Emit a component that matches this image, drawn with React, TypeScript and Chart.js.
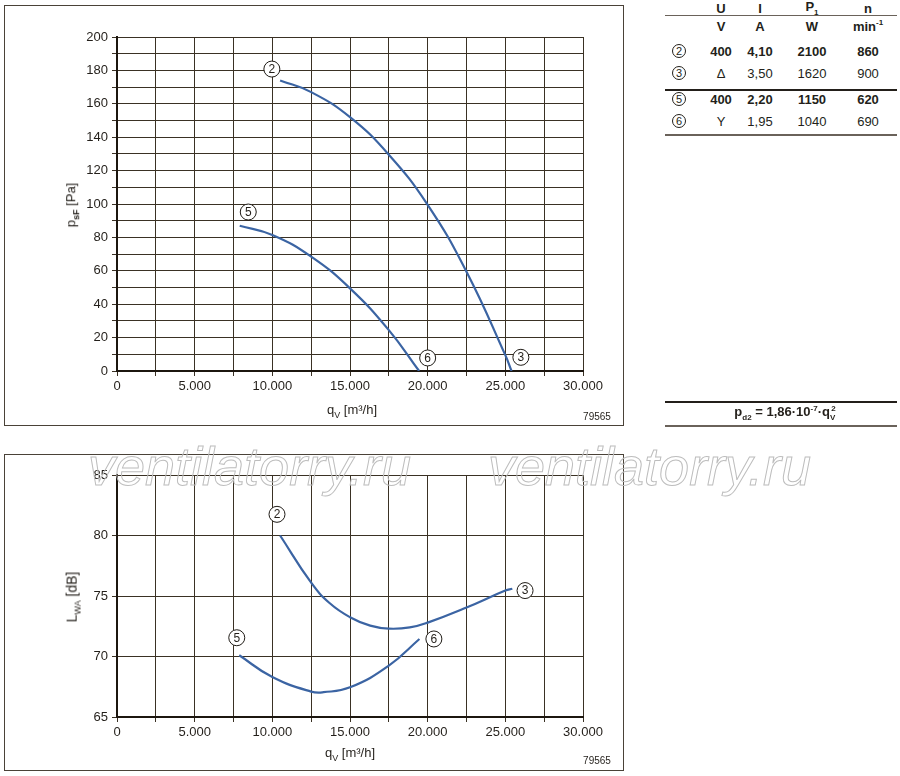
import React, { useEffect, useRef } from "react";
import { Chart, registerables } from "chart.js";

Chart.register(...registerables);

// ---------- data ----------
const fan2Q = [10500, 12500, 15000, 17500, 20000, 22500, 25000, 25400];
const fan2P = [174, 167, 152, 129.5, 99.5, 59.5, 9.5, 0];
const fan5Q = [7900, 10000, 12500, 15000, 17500, 19450];
const fan5P = [87, 81.5, 68.5, 49.5, 24.5, 0];

const lw2Q = [10500, 12500, 13700, 15000, 16300, 17500, 18850, 20000, 22500, 25000, 25450];
const lw2L = [80.0, 76.1, 74.4, 73.25, 72.55, 72.3, 72.4, 72.8, 74.05, 75.45, 75.6];
const lw5Q = [7870, 10000, 12500, 13300, 15000, 17500, 19470];
const lw5L = [70.1, 68.3, 67.1, 67.05, 67.45, 69.25, 71.45];

const pLabelQ = [9970, 8450, 20000, 26000];
const pLabelV = [180.8, 95.2, 7.8, 8.2];
const pLabelT = ["2", "5", "6", "3"];

const lLabelQ = [10300, 7710, 20400, 26270];
const lLabelV = [81.75, 71.55, 71.45, 75.45];
const lLabelT = ["2", "5", "6", "3"];

const tblId = ["2", "3", "5", "6"];
const tblU = ["400", "Δ", "400", "Y"];
const tblI = ["4,10", "3,50", "2,20", "1,95"];
const tblP = ["2100", "1620", "1150", "1040"];
const tblN = ["860", "900", "620", "690"];
const tblBold = [true, false, true, false];

const FONT = "'Liberation Sans', Arial, Helvetica, sans-serif";
const TXT = "#231f1a";
const GRID = "#3a3124";
const BLUE = "#3b64a3";

const circlePlugin = {
  id: "circleLabels",
  afterDatasetsDraw(chart: any, _args: any, opts: any) {
    const { ctx } = chart;
    const xs = chart.scales.x;
    const ys = chart.scales.y;
    const q: number[] = opts.q || [];
    const v: number[] = opts.v || [];
    const t: string[] = opts.t || [];
    ctx.save();
    for (let i = 0; i < q.length; i++) {
      const px = xs.getPixelForValue(q[i]);
      const py = ys.getPixelForValue(v[i]);
      ctx.beginPath();
      ctx.arc(px, py, 8, 0, Math.PI * 2);
      ctx.fillStyle = "#ffffff";
      ctx.fill();
      ctx.lineWidth = 1;
      ctx.strokeStyle = "#1e1a15";
      ctx.stroke();
      ctx.fillStyle = TXT;
      ctx.font = `12px ${FONT}`;
      ctx.textAlign = "center";
      ctx.textBaseline = "middle";
      ctx.fillText(t[i], px, py + 0.5);
    }
    ctx.restore();
  },
};

function toXY(xs: number[], ys: number[]) {
  return xs.map((x, i) => ({ x, y: ys[i] }));
}

function fmtQ(v: number) {
  if (v % 5000 !== 0) return "";
  if (v === 0) return "0";
  return `${v / 1000}.000`;
}

function makeChart(
  canvas: HTMLCanvasElement,
  series: { q: number[]; v: number[] }[],
  yMin: number,
  yMax: number,
  yStep: number,
  yLabelEvery: number,
  padTop: number,
  labels: { q: number[]; v: number[]; t: string[] }
) {
  return new Chart(canvas, {
    type: "line",
    data: {
      datasets: series.map((s) => ({
        data: toXY(s.q, s.v),
        borderColor: BLUE,
        borderWidth: 2.2,
        pointRadius: 0,
        tension: 0.45,
        cubicInterpolationMode: "default",
        fill: false,
      })),
    },
    plugins: [circlePlugin],
    options: {
      animation: false,
      responsive: false,
      maintainAspectRatio: false,
      layout: { padding: { left: 0, right: 57, top: padTop, bottom: 19 } },
      plugins: {
        legend: { display: false },
        tooltip: { enabled: false },
        circleLabels: labels,
      } as any,
      scales: {
        x: {
          type: "linear",
          min: 0,
          max: 30000,
          afterFit: (s: any) => {
            s.height = 40;
          },
          ticks: {
            stepSize: 2500,
            autoSkip: false,
            maxRotation: 0,
            padding: 3,
            color: TXT,
            font: { family: FONT, size: 13 },
            callback: (v: any) => fmtQ(Number(v)),
          },
          grid: { color: GRID, lineWidth: 1, tickLength: 5, tickColor: GRID },
          border: { display: true, color: "#1c160f", width: 2 },
        },
        y: {
          type: "linear",
          min: yMin,
          max: yMax,
          afterFit: (s: any) => {
            s.width = 117;
          },
          ticks: {
            stepSize: yStep,
            autoSkip: false,
            padding: 4,
            color: TXT,
            font: { family: FONT, size: 13 },
            callback: (v: any) =>
              Math.round(Number(v) - yMin) % yLabelEvery === 0 ? String(v) : "",
          },
          grid: { color: GRID, lineWidth: 1, tickLength: 5, tickColor: GRID },
          border: { display: true, color: "#1c160f", width: 2 },
        },
      },
    } as any,
  });
}

const abs = (l: number, t: number, extra: React.CSSProperties = {}): React.CSSProperties => ({
  position: "absolute",
  left: l,
  top: t,
  ...extra,
});

const centered = (cx: number, cy: number, extra: React.CSSProperties = {}): React.CSSProperties => ({
  position: "absolute",
  left: cx,
  top: cy,
  transform: "translate(-50%, -50%)",
  whiteSpace: "nowrap",
  ...extra,
});

export default function App() {
  const topRef = useRef<HTMLCanvasElement>(null);
  const botRef = useRef<HTMLCanvasElement>(null);

  useEffect(() => {
    const c1 = makeChart(
      topRef.current!,
      [
        { q: fan2Q, v: fan2P },
        { q: fan5Q, v: fan5P },
      ],
      0,
      200,
      10,
      20,
      37,
      { q: pLabelQ, v: pLabelV, t: pLabelT }
    );
    const c2 = makeChart(
      botRef.current!,
      [
        { q: lw2Q, v: lw2L },
        { q: lw5Q, v: lw5L },
      ],
      65,
      85,
      5,
      5,
      35,
      { q: lLabelQ, v: lLabelV, t: lLabelT }
    );
    return () => {
      c1.destroy();
      c2.destroy();
    };
  }, []);

  const cols = [679, 721, 760, 812, 868];
  const rowsY = [51, 73, 99, 121];
  const lineStyle = (y: number, w: number, c: string): React.CSSProperties =>
    abs(665, y, { width: 232, height: w, background: c });

  const wm: React.CSSProperties = {
    fontFamily: FONT,
    fontStyle: "italic",
    fontSize: 54,
    lineHeight: "54px",
    color: "transparent",
    WebkitTextStroke: "1px #bdbdbd",
    whiteSpace: "nowrap",
  };

  return (
    <div
      style={{
        position: "fixed",
        left: 0,
        top: 0,
        width: 900,
        height: 776,
        background: "#fff",
        fontFamily: FONT,
        color: TXT,
        overflow: "hidden",
      }}
    >
      {/* top chart */}
      <div style={abs(4, 5, { width: 620, height: 421, border: "1.5px solid #4a4238", boxSizing: "border-box" })} />
      <canvas ref={topRef} width={640} height={430} style={abs(0, 0, { width: 640, height: 430 })} />
      <div style={centered(72, 205, { transform: "translate(-50%, -50%) rotate(-90deg)", fontSize: 13 })}>
        p<sub style={{ fontSize: 9, fontWeight: "bold" }}>sF</sub> [Pa]
      </div>
      <div style={centered(352, 411, { fontSize: 13 })}>
        q<sub style={{ fontSize: 9 }}>V</sub> [m³/h]
      </div>
      <div style={centered(597, 416, { fontSize: 10 })}>79565</div>

      {/* bottom chart */}
      <div style={abs(4, 454, { width: 620, height: 317, border: "1.5px solid #4a4238", boxSizing: "border-box" })} />
      <canvas ref={botRef} width={640} height={336} style={abs(0, 440, { width: 640, height: 336 })} />
      <div style={centered(73, 597, { transform: "translate(-50%, -50%) rotate(-90deg)", fontSize: 14 })}>
        L<sub style={{ fontSize: 9 }}>WA</sub> [dB]
      </div>
      <div style={centered(350, 754, { fontSize: 13 })}>
        q<sub style={{ fontSize: 9 }}>V</sub> [m³/h]
      </div>
      <div style={centered(597, 760, { fontSize: 10 })}>79565</div>

      {/* watermark */}
      <div style={abs(88, 439, wm)}>ventilatorry.ru</div>
      <div style={abs(488, 439, wm)}>ventilatorry.ru</div>

      {/* table */}
      <div style={centered(cols[1], 8, { fontSize: 13, fontWeight: "bold" })}>U</div>
      <div style={centered(cols[2], 8, { fontSize: 13, fontWeight: "bold" })}>I</div>
      <div style={centered(cols[3], 8, { fontSize: 13, fontWeight: "bold" })}>
        P<sub style={{ fontSize: 8 }}>1</sub>
      </div>
      <div style={centered(cols[4], 8, { fontSize: 13, fontWeight: "bold" })}>n</div>
      <div style={lineStyle(15, 1, "#6a625a")} />
      <div style={centered(cols[1], 26, { fontSize: 13, fontWeight: "bold" })}>V</div>
      <div style={centered(cols[2], 26, { fontSize: 13, fontWeight: "bold" })}>A</div>
      <div style={centered(cols[3], 26, { fontSize: 13, fontWeight: "bold" })}>W</div>
      <div style={centered(cols[4], 26, { fontSize: 13, fontWeight: "bold" })}>
        min<sup style={{ fontSize: 8 }}>-1</sup>
      </div>
      {tblId.map((id, i) => (
        <React.Fragment key={id}>
          <div
            style={centered(cols[0], rowsY[i], {
              width: 14,
              height: 14,
              border: "1px solid #231f1a",
              borderRadius: "50%",
              boxSizing: "border-box",
              fontSize: 11,
              lineHeight: "12px",
              textAlign: "center",
            })}
          >
            {id}
          </div>
          {[tblU[i], tblI[i], tblP[i], tblN[i]].map((s, j) => (
            <div
              key={j}
              style={centered(cols[j + 1], rowsY[i], { fontSize: 13, fontWeight: tblBold[i] ? "bold" : "normal" })}
            >
              {s}
            </div>
          ))}
        </React.Fragment>
      ))}
      <div style={lineStyle(89, 1.5, "#231f1a")} />
      <div style={lineStyle(134, 1.5, "#6a625a")} />

      {/* formula */}
      <div style={lineStyle(401, 1.5, "#231f1a")} />
      <div style={centered(785, 413, { fontSize: 13, fontWeight: "bold" })}>
        p<sub style={{ fontSize: 8 }}>d2</sub> = 1,86·10<sup style={{ fontSize: 8 }}>-7</sup>·q
        <sub style={{ fontSize: 8 }}>V</sub>
        <sup style={{ fontSize: 8, marginLeft: -4 }}>2</sup>
      </div>
      <div style={lineStyle(425, 1.5, "#6a625a")} />
    </div>
  );
}
